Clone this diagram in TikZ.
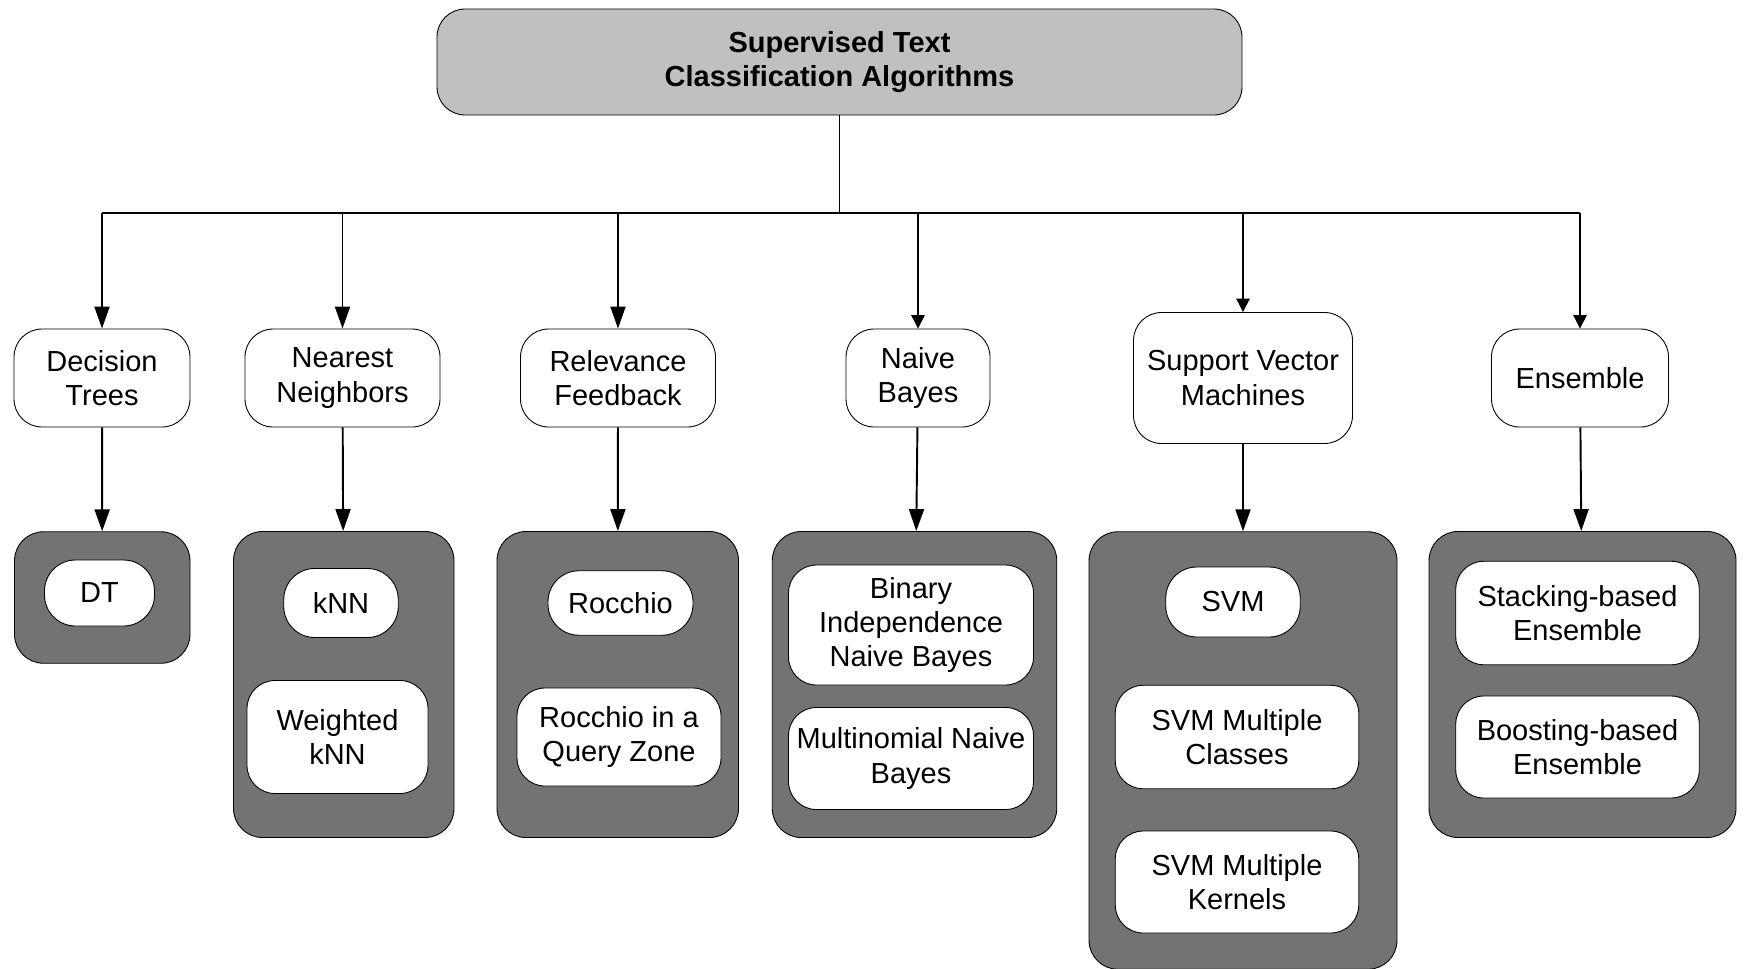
\documentclass[tikz,border=0pt]{standalone}
\usepackage{fontspec}
\setmainfont{Liberation Sans}
\usepackage{tikz}
\usetikzlibrary{positioning,calc,arrows.meta}
\definecolor{rootGray}{RGB}{192,192,192}
\definecolor{boxGray}{RGB}{115,115,115}

\begin{document}
\begin{tikzpicture}[every node/.style={font=\fontsize{16.5}{19.5}\selectfont, align=center, inner sep=2pt},
                rootbox/.style={draw, fill=rootGray, rounded corners=0.56cm, line width=0.5pt, font=\fontsize{16.5}{19.5}\selectfont\bfseries},
                cat/.style={draw, fill=white, rounded corners=0.56cm, line width=0.5pt},
                grp/.style={draw, fill=boxGray, rounded corners=0.58cm, line width=0.5pt},
                alg/.style={draw, fill=white, rounded corners=0.56cm, line width=0.5pt},
                pill/.style={alg, rounded corners=0.62cm},
                busline/.style={line width=1.1pt},
                bigarr/.style={line width=1.1pt, -{Triangle[length=0.44cm,width=0.3cm]}},
                smallarr/.style={line width=0.6pt, -{Triangle[length=0.27cm,width=0.27cm]}}]
                \useasboundingbox (0,0) rectangle (34.88,-19.36);
                \node[rootbox, minimum width=16.1cm, minimum height=2.12cm] (root) at (16.79,-1.24) {Supervised Text\\Classification Algorithms};
                \coordinate (bus) at (16.8,-4.26);
                \node[cat, minimum width=3.52cm, minimum height=1.96cm] (dtree) at (2.04,-7.56) {Decision\\Trees};
                \node[cat, minimum width=3.9cm, minimum height=1.96cm] (nn) at (6.85,-7.56) {Nearest\\Neighbors};
                \node[cat, minimum width=3.9cm, minimum height=1.96cm] (rf) at (12.36,-7.56) {Relevance\\Feedback};
                \node[cat, minimum width=2.88cm, minimum height=1.96cm] (nb) at (18.36,-7.56) {Naive\\Bayes};
                \node[cat, minimum width=4.38cm, minimum height=2.62cm] (svmc) at (24.86,-7.56) {Support Vector\\Machines};
                \node[cat, minimum width=3.54cm, minimum height=1.96cm] (ens) at (31.6,-7.56) {Ensemble};
                \node[grp, minimum width=3.51cm, minimum height=2.63cm] (dtbox) at (2.045,-11.95) {};
                \node[grp, minimum width=4.41cm, minimum height=6.12cm] (knnbox) at (6.875,-13.69) {};
                \node[grp, minimum width=4.83cm, minimum height=6.12cm] (rocbox) at (12.355,-13.69) {};
                \node[grp, minimum width=5.69cm, minimum height=6.12cm] (nbbox) at (18.29,-13.69) {};
                \node[grp, minimum width=6.16cm, minimum height=8.75cm] (svmbox) at (24.86,-15.01) {};
                \node[grp, minimum width=6.14cm, minimum height=6.12cm] (ensbox) at (31.65,-13.69) {};
                \node[pill, minimum width=2.2cm, minimum height=1.32cm] (dt) at (1.99,-11.86) {DT};
                \node[pill, minimum width=2.29cm, minimum height=1.38cm] (knn) at (6.82,-12.06) {kNN};
                \node[alg, minimum width=3.62cm, minimum height=2.26cm] (wknn) at (6.75,-14.74) {Weighted\\kNN};
                \node[pill, minimum width=2.9cm, minimum height=1.29cm] (roc) at (12.41,-12.06) {Rocchio};
                \node[alg, minimum width=4.08cm, minimum height=1.96cm] (rocq) at (12.38,-14.74) {Rocchio in a\\Query Zone};
                \node[alg, minimum width=4.9cm, minimum height=2.4cm] (bin) at (18.22,-12.5) {Binary\\Independence\\Naive Bayes};
                \node[alg, minimum width=4.9cm, minimum height=2.04cm] (mult) at (18.22,-15.17) {Multinomial Naive\\Bayes};
                \node[pill, minimum width=2.69cm, minimum height=1.4cm] (svm) at (24.66,-12.04) {SVM};
                \node[alg, minimum width=4.87cm, minimum height=2.07cm] (svmmc) at (24.74,-14.74) {SVM Multiple\\Classes};
                \node[alg, minimum width=4.87cm, minimum height=2.04cm] (svmmk) at (24.74,-17.64) {SVM Multiple\\Kernels};
                \node[alg, minimum width=4.87cm, minimum height=2.07cm] (stack) at (31.55,-12.26) {Stacking-based\\Ensemble};
                \node[alg, minimum width=4.87cm, minimum height=2.04cm] (boost) at (31.55,-14.94) {Boosting-based\\Ensemble};
                \draw[line width=0.8pt] (root.south) -- (root.south |- bus);
                \draw[busline] (dtree.north |- bus) -- (ens.north |- bus);
                \draw[bigarr] (dtree.north |- bus) -- (dtree);
                \draw[bigarr] (nn.north |- bus) -- (nn);
                \draw[bigarr] (rf.north |- bus) -- (rf);
                \draw[smallarr] (nb.north |- bus) -- (nb);
                \draw[smallarr] (svmc.north |- bus) -- (svmc);
                \draw[smallarr] (ens.north |- bus) -- (ens);
                \draw[bigarr] (dtree) -- (dtbox);
                \draw[bigarr] (nn) -- (knnbox);
                \draw[bigarr] (rf) -- (rocbox);
                \draw[bigarr] (nb) -- (nbbox);
                \draw[bigarr] (svmc) -- (svmbox);
                \draw[bigarr] (ens) -- (ensbox);
            \end{tikzpicture}
\end{document}
